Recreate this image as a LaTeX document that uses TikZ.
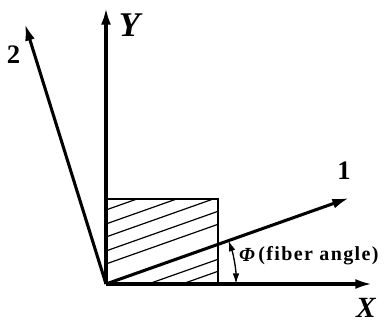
\documentclass[tikz,border=0pt]{standalone}
\usepackage{fontspec}
\setmainfont{Liberation Serif}
\newfontfamily\spacedfont[LetterSpace=7]{Liberation Serif}
\usetikzlibrary{arrows.meta,calc}

\begin{document}
\begin{tikzpicture}[
  x=0.75pt, y=-0.75pt,
  axis/.style={line width=2.3pt, -{Latex[length=12.5pt, width=7.5pt]}},
  edge/.style={line width=1.4pt},
  hatch/.style={line width=0.9pt},
  angarr/.style={line width=1pt, {Latex[length=8pt, width=5pt]}-{Latex[length=8pt, width=5pt]}},
  lbl/.style={inner sep=0pt, font=\bfseries\itshape}]
\useasboundingbox (0,0) rectangle (385,324);
\coordinate (O) at (106,284);
\coordinate (xtip) at (372,284);
\coordinate (ytip) at (106,8);
\coordinate (onetip) at (349,198);
\coordinate (twotip) at (25,24);
% fiber hatching inside the lamina
\begin{scope}
  \clip (106,199) rectangle (218,284);
  \foreach \off in {-27,-15,20,33,47,60,74}
    \draw[hatch] ($(O)+(-60,21.2-\off)$) -- ++(320,-113.3);
\end{scope}
\draw[edge] (106,199) -- (218,199) -- (218,284);
% axes
\draw[axis] (O) -- (xtip);
\draw[axis] (O) -- (ytip);
\draw[axis] (O) -- (onetip);
\draw[axis] (O) -- (twotip);
% fiber angle
\draw[angarr] ($(O)+(130,0)$) arc[start angle=0, end angle=-19.5, radius=130];
\node[lbl, font=\fontsize{26}{26}\selectfont\bfseries\itshape] (ylab) at (129.5,25) {Y};
\node[lbl, font=\fontsize{22}{22}\selectfont\bfseries\itshape] (xlab) at (366,308) {X};
\node[lbl, font=\fontsize{20}{20}\selectfont\bfseries] (onelab) at (344,170.5) {1};
\node[lbl, font=\fontsize{20}{20}\selectfont\bfseries] (twolab) at (13.5,55) {2};
\node[lbl, font=\fontsize{15}{15}\selectfont\bfseries\itshape] (philab) at (247,254.5) {Φ};
\node[inner sep=0pt, anchor=west, font=\fontsize{15}{15}\selectfont\spacedfont\bfseries] (anglab) at (258,256) {(fiber angle)};
\end{tikzpicture}
\end{document}
